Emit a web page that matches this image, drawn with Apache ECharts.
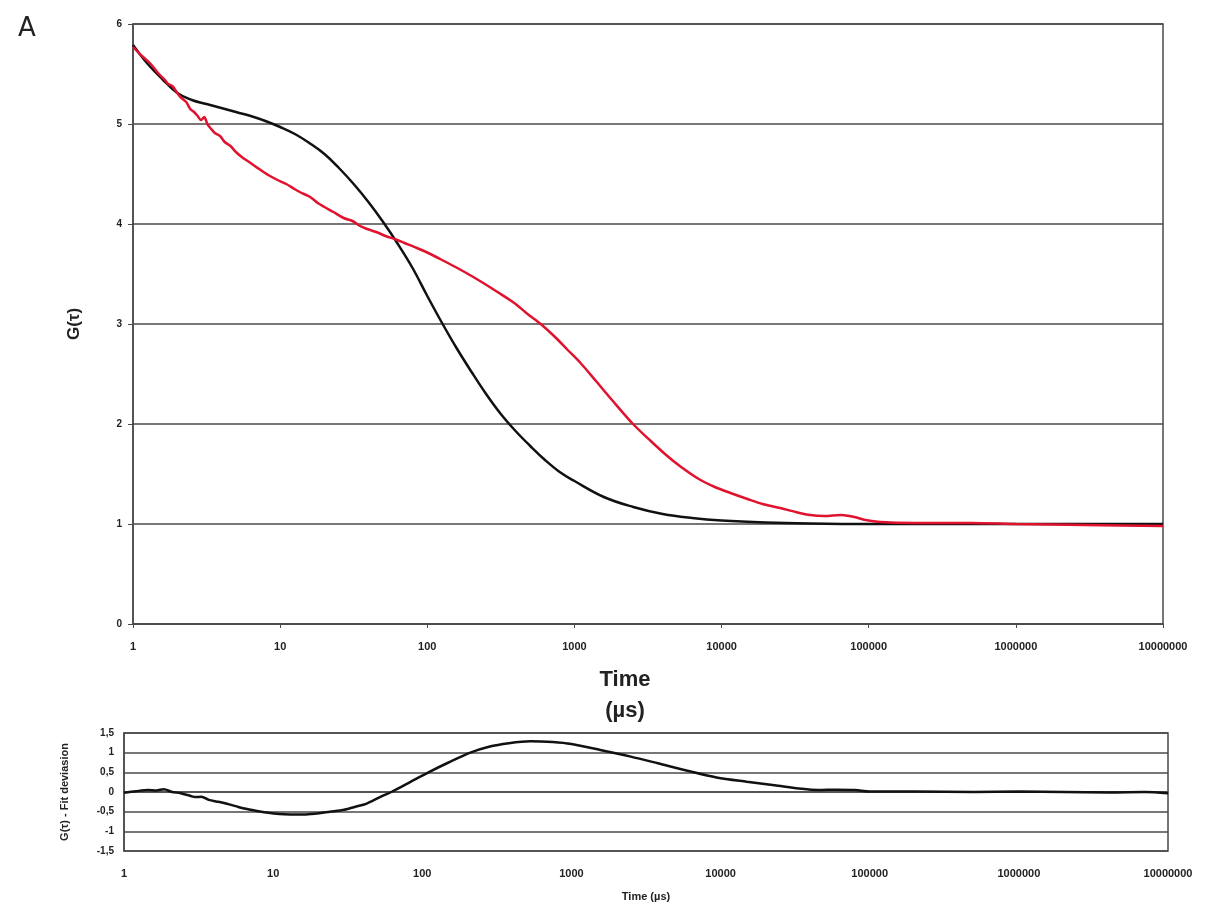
<!DOCTYPE html>
<html>
<head>
<meta charset="utf-8">
<title>G(τ)</title>
<script src="https://cdn.jsdelivr.net/npm/echarts@6/dist/echarts.min.js"></script>
<style>
	html,body{margin:0;padding:0;background:#ffffff;}
	#chart{width:1209px;height:919px;}
</style>
</head>
<body>
<div id="chart"></div>
<script>
// measured curve (red)
var dataTime=[1,1.15,1.32,1.5,1.65,1.73,1.85,2.0,2.1,2.3,2.45,2.6,2.75,2.9,3.05,3.2,3.4,3.6,3.9,4.2,4.6,5.0,5.6,6.3,7.2,8.3,9.6,11,12.5,14,16,18,20,23,27,31,35,39,45,52,60,70,85,105,130,160,200,240,300,390,480,590,750,900,1100,1400,1800,2500,3300,4200,5200,7000,9000,11500,15000,19000,25000,32000,40000,50000,65000,80000,95000,120000,200000,500000,1000000,3000000,10000000];
var dataG=[5.77,5.68,5.60,5.50,5.44,5.40,5.38,5.31,5.27,5.22,5.15,5.12,5.08,5.04,5.07,5.00,4.95,4.91,4.88,4.82,4.78,4.72,4.66,4.61,4.55,4.49,4.44,4.40,4.35,4.31,4.27,4.21,4.17,4.12,4.06,4.03,3.98,3.95,3.92,3.88,3.85,3.81,3.76,3.70,3.63,3.56,3.48,3.41,3.32,3.21,3.10,3.00,2.86,2.74,2.61,2.43,2.24,2.00,1.83,1.69,1.58,1.45,1.37,1.31,1.25,1.20,1.16,1.12,1.09,1.08,1.09,1.07,1.04,1.02,1.01,1.01,1.00,0.99,0.98];

// fit curve (black)
var fitTime=[1,1.26,1.58,2.0,2.51,3.16,3.98,5.01,6.31,7.94,10,12.6,15.8,20,25.1,31.6,39.8,50.1,63.1,79.4,100,126,158,200,251,316,398,501,631,794,1000,1585,2512,3981,6310,10000,19953,39811,100000,1000000,10000000];
var fitG=[5.79,5.60,5.45,5.31,5.24,5.20,5.16,5.12,5.08,5.03,4.97,4.90,4.81,4.70,4.56,4.40,4.22,4.02,3.80,3.56,3.28,3.01,2.76,2.52,2.30,2.10,1.93,1.78,1.64,1.52,1.43,1.27,1.17,1.10,1.06,1.035,1.015,1.005,1.00,1.00,1.00];

// fit deviation (lower panel)
var devTime=[1,1.2,1.45,1.65,1.85,2.1,2.4,2.8,3.0,3.3,3.7,4.3,4.9,5.6,6.4,7.5,9,11,13,16,19,24,30,36,42,52,62,80,110,150,210,280,380,530,750,1000,1560,2500,3800,6000,9400,15000,23000,35000,45000,60000,80000,100000,200000,500000,1000000,2000000,4000000,7000000,10000000];
var devG=[-0.02,0.02,0.05,0.04,0.07,0.00,-0.03,-0.10,-0.13,-0.12,-0.20,-0.25,-0.30,-0.36,-0.42,-0.47,-0.52,-0.56,-0.57,-0.57,-0.55,-0.50,-0.45,-0.37,-0.30,-0.13,0.00,0.22,0.50,0.75,1.00,1.15,1.24,1.29,1.27,1.22,1.07,0.90,0.73,0.54,0.37,0.26,0.17,0.08,0.05,0.06,0.05,0.01,0.01,0.00,0.01,0.00,-0.01,0.00,-0.03];

var gTicks=[0,1,2,3,4,5,6];
var devTicks=[-1.5,-1,-0.5,0,0.5,1,1.5];

function pairs(xs,ys){
	var out=[];
	for(var i=0;i<xs.length;i++){
		out.push([xs[i],ys[i]]);
	}
	return out;
}

var FONT='Liberation Sans';
var GRIDCOLOR='#4a4a4a';

function timeLabel(v){
	return String(Math.round(v));
}

var chart=echarts.init(document.getElementById('chart'));

var option={
	backgroundColor:'#ffffff',
	animation:false,
	grid:[
		{left:133,top:24,width:1030,height:600,show:true,borderColor:GRIDCOLOR,borderWidth:1.5,backgroundColor:'transparent'},
		{left:124,top:733,width:1044,height:118,show:true,borderColor:GRIDCOLOR,borderWidth:1.5,backgroundColor:'transparent'}
	],
	graphic:[
		{type:'text',left:18,top:16,style:{text:'A',font:'26px "DejaVu Sans"',fill:'#222'}},
		{type:'text',x:625,y:680,style:{text:'Time',font:'bold 22px "'+FONT+'"',fill:'#222',textAlign:'center',textVerticalAlign:'middle'}},
		{type:'text',x:625,y:711,style:{text:'(µs)',font:'bold 22px "'+FONT+'"',fill:'#222',textAlign:'center',textVerticalAlign:'middle'}}
	],
	xAxis:[
		{
			type:'log',logBase:10,min:1,max:10000000,gridIndex:0,
			axisLine:{show:true,lineStyle:{color:GRIDCOLOR,width:1.5}},
			axisTick:{show:true,length:4,lineStyle:{color:GRIDCOLOR}},
			axisLabel:{formatter:timeLabel,fontFamily:FONT,fontWeight:'bold',fontSize:11,color:'#222',margin:17},
			splitLine:{show:false}
		},
		{
			type:'log',logBase:10,min:1,max:10000000,gridIndex:1,
			name:'Time (µs)',nameLocation:'middle',nameGap:40,
			nameTextStyle:{fontFamily:FONT,fontWeight:'bold',fontSize:11,color:'#222'},
			axisLine:{show:true,lineStyle:{color:GRIDCOLOR,width:1.5}},
			axisTick:{show:false},
			axisLabel:{formatter:timeLabel,fontFamily:FONT,fontWeight:'bold',fontSize:11,color:'#222',margin:17},
			splitLine:{show:false}
		}
	],
	yAxis:[
		{
			type:'value',min:gTicks[0],max:gTicks[gTicks.length-1],interval:1,gridIndex:0,
			name:'G(τ)',nameLocation:'middle',nameGap:50,nameRotate:90,
			nameTextStyle:{fontFamily:FONT,fontWeight:'bold',fontSize:17,color:'#222'},
			axisLine:{show:true,lineStyle:{color:GRIDCOLOR,width:1.5}},
			axisTick:{show:true,length:5,lineStyle:{color:GRIDCOLOR}},
			axisLabel:{fontFamily:FONT,fontWeight:'bold',fontSize:10,color:'#222',margin:11},
			splitLine:{show:true,lineStyle:{color:GRIDCOLOR,width:1.5}}
		},
		{
			type:'value',min:devTicks[0],max:devTicks[devTicks.length-1],interval:0.5,gridIndex:1,
			name:'G(τ) - Fit deviasion',nameLocation:'middle',nameGap:54,nameRotate:90,
			nameTextStyle:{fontFamily:FONT,fontWeight:'bold',fontSize:11,color:'#222'},
			axisLine:{show:true,lineStyle:{color:GRIDCOLOR,width:1.5}},
			axisTick:{show:false},
			axisLabel:{fontFamily:FONT,fontWeight:'bold',fontSize:10,color:'#222',margin:10,
				formatter:function(v){return String(v).replace('.',',');}},
			splitLine:{show:true,lineStyle:{color:GRIDCOLOR,width:1.5}}
		}
	],
	series:[
		{
			name:'fit',type:'line',xAxisIndex:0,yAxisIndex:0,
			data:pairs(fitTime,fitG),smooth:0.4,showSymbol:false,
			lineStyle:{color:'#111111',width:2.5}
		},
		{
			name:'data',type:'line',xAxisIndex:0,yAxisIndex:0,
			data:pairs(dataTime,dataG),smooth:0.3,showSymbol:false,
			lineStyle:{color:'#e0122e',width:2.5}
		},
		{
			name:'deviation',type:'line',xAxisIndex:1,yAxisIndex:1,
			data:pairs(devTime,devG),smooth:0.3,showSymbol:false,
			lineStyle:{color:'#111111',width:2.5}
		}
	]
};

chart.setOption(option,true);
</script>
</body>
</html>
